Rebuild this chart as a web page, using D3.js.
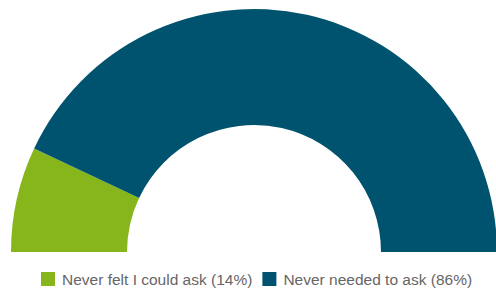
<!DOCTYPE html>
<html>
  <head>
    <style>
      body { margin: 0; background: #fff; font-family: "Liberation Sans", Arial, sans-serif; }
    </style>
  </head>
<body>
  <div id="chart"></div>
  <script src="https://d3js.org/d3.v7.min.js"></script>
  <script>
    var labels = ["Never felt I could ask", "Never needed to ask"];
    var values = [14, 86];
    var colors = ["#86b51c", "#00536e"];

    var width = 496, height = 301;
    var cx = 254, cy = 252, outerR = 243, innerR = 127;

    var svg = d3.select("#chart")
      .append("svg")
      .attr("width", width)
      .attr("height", height);

    var pie = d3.pie()
      .sort(null)
      .startAngle(-Math.PI / 2)
      .endAngle(Math.PI / 2);

    var arc = d3.arc()
      .innerRadius(innerR)
      .outerRadius(outerR);

    var g = svg.append("g")
      .attr("transform", "translate(" + cx + "," + cy + ")");

    g.selectAll("path")
      .data(pie(values))
      .enter()
      .append("path")
        .attr("d", arc)
        .style("fill", function(d, i) { return colors[i]; });

    // legend
    var legend = svg.append("g").attr("transform", "translate(0,272)");
    var item = legend.selectAll("g")
      .data(labels)
      .enter()
      .append("g");

    item.append("rect")
      .attr("y", 0)
      .attr("width", 14)
      .attr("height", 14)
      .style("fill", function(d, i) { return colors[i]; });

    item.append("text")
      .attr("x", 21)
      .attr("y", 13)
      .style("font-size", "15.5px")
      .style("fill", "#666")
      .text(function(d, i) { return d + " (" + values[i] + "%)"; });

    // lay out legend items from the left
    var x = 41, gap = 10;
    item.each(function() {
      var w = this.getBBox().width;
      d3.select(this).attr("transform", "translate(" + x + ",0)");
      x += w + gap;
    });
  </script>
</body>
</html>
